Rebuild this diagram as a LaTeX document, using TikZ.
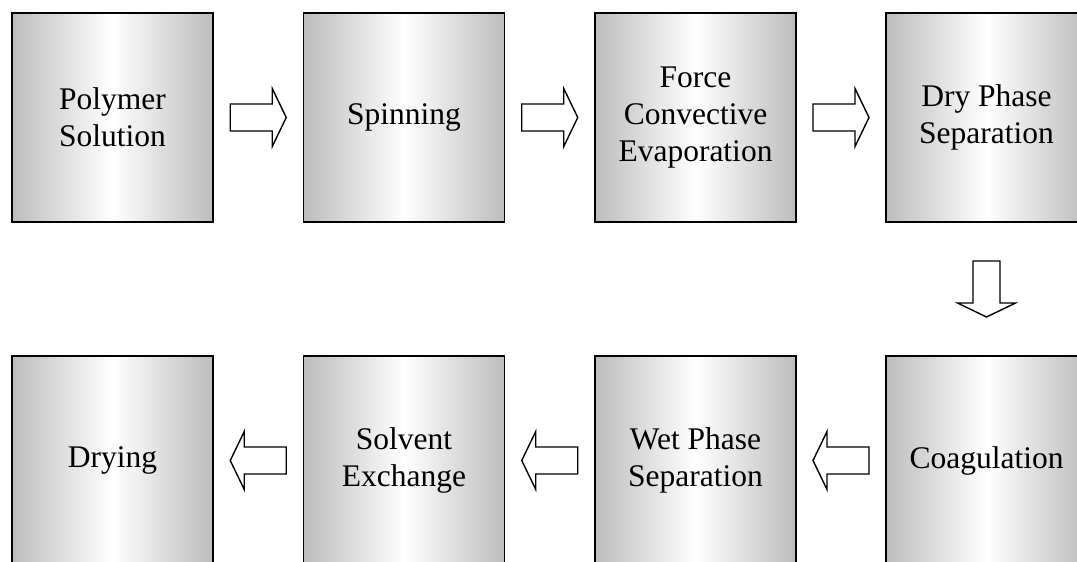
\documentclass[tikz,border=0pt]{standalone}
\usepackage{fontspec}
\setmainfont{Liberation Serif}
\usetikzlibrary{calc}
\begin{document}
\begin{tikzpicture}[x=1pt,y=1pt,
  stage/.style={draw=black, line width=1.8pt, minimum width=201pt, minimum height=209pt,
    inner sep=0pt, align=center, left color=gray!52, right color=gray!52, middle color=white,
    font=\fontsize{31.5}{37}\selectfont},
  blockarrow/.pic={
    \draw[line width=1.4pt, fill=white, line join=miter]
      (-28,-13.5) -- (14,-13.5) -- (14,-29) -- (28,0) -- (14,29) -- (14,13.5) -- (-28,13.5) -- cycle;
  }]
\useasboundingbox (0,0) rectangle (1077,-562);
\clip (0,0) rectangle (1077,-562);
% upper row, left to right
\node[stage] (poly) at (112.5,-117.5) {Polymer\\Solution};
\node[stage] (spin) at (404,-117.5) {Spinning};
\node[stage] (evap) at (695.5,-117.5) {Force\\Convective\\Evaporation};
\node[stage] (dry)  at (986.5,-117.5) {Dry Phase\\Separation};
% lower row, right to left
\node[stage] (coag) at (986.5,-460.5) {Coagulation};
\node[stage] (wet)  at (695.5,-460.5) {Wet Phase\\Separation};
\node[stage] (solv) at (404,-460.5) {Solvent\\Exchange};
\node[stage] (dryg) at (112.5,-460.5) {Drying};
% block arrows between the stages
\coordinate (a1) at ($(poly.east)!0.5!(spin.west)$);
\coordinate (a2) at ($(spin.east)!0.5!(evap.west)$);
\coordinate (a3) at ($(evap.east)!0.5!(dry.west)$);
\coordinate (a4) at ($(dry.south)!0.5!(coag.north)$);
\coordinate (a5) at ($(coag.west)!0.5!(wet.east)$);
\coordinate (a6) at ($(wet.west)!0.5!(solv.east)$);
\coordinate (a7) at ($(solv.west)!0.5!(dryg.east)$);
\pic at (a1) {blockarrow};
\pic at (a2) {blockarrow};
\pic at (a3) {blockarrow};
\pic[rotate=-90] at (a4) {blockarrow};
\pic[rotate=180] at (a5) {blockarrow};
\pic[rotate=180] at (a6) {blockarrow};
\pic[rotate=180] at (a7) {blockarrow};
\end{tikzpicture}
\end{document}
